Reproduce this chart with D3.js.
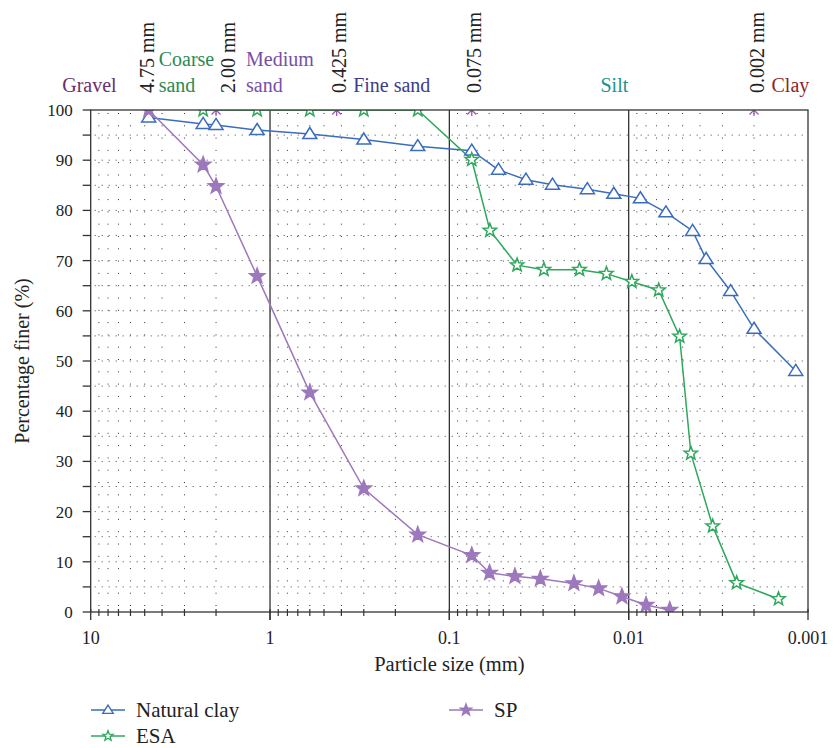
<!DOCTYPE html>
<html>
<head>
<meta charset="utf-8">
<script src="https://cdn.jsdelivr.net/npm/d3@7"></script>
<style>
  body { margin: 0; background: #fff; }
  text { font-family: "Liberation Serif", "Times New Roman", serif; }
</style>
</head>
<body>
<div id="chart"></div>
<script>
// chart size
const width = 833,
  height = 748;
const margin = {top: 110, right: 25, bottom: 136, left: 91};

// data (particle size in mm, percentage finer)
const claySize = [4.75, 2.36, 2.0, 1.18, 0.6, 0.3, 0.15, 0.075, 0.0532, 0.0374, 0.0266, 0.017, 0.0121, 0.0086, 0.0062, 0.0044, 0.0037, 0.0027, 0.002, 0.00117];
const clayFiner = [98.5, 97.2, 97.0, 96.0, 95.2, 94.1, 92.8, 91.9, 88.1, 86.1, 85.1, 84.2, 83.3, 82.4, 79.6, 75.9, 70.3, 63.9, 56.4, 48.0];

const esaSize = [2.36, 1.18, 0.6, 0.3, 0.15, 0.075, 0.0594, 0.0419, 0.0297, 0.0188, 0.0133, 0.0096, 0.0068, 0.0052, 0.0045, 0.0034, 0.0025, 0.00146];
const esaFiner = [100, 100, 100, 100, 100, 90.1, 76.0, 69.1, 68.2, 68.2, 67.4, 65.8, 64.1, 54.9, 31.6, 17.1, 5.8, 2.6];

const spSize = [4.75, 2.36, 2.0, 1.18, 0.6, 0.3, 0.15, 0.075, 0.0597, 0.0431, 0.0311, 0.0202, 0.0147, 0.0109, 0.008, 0.0059];
const spFiner = [100, 89.1, 84.8, 66.9, 43.7, 24.6, 15.4, 11.3, 7.8, 7.1, 6.6, 5.7, 4.7, 3.1, 1.4, 0.4];

// sieve boundaries shown at the top
const boundSize = [4.75, 2.0, 0.425, 0.075, 0.002];
const boundLabels = ["4.75 mm", "2.00 mm", "0.425 mm", "0.075 mm", "0.002 mm"];

// soil classes written above the plot
const classNames = [["Gravel"], ["Coarse", "sand"], ["Medium", "sand"], ["Fine sand"], ["Silt"], ["Clay"]];
const classColors = ["#6b2d6e", "#2b8a52", "#7650a8", "#3b3c8e", "#22918a", "#8e2328"];

const xTicks = [10, 1, 0.1, 0.01, 0.001];
const xTickLabels = ["10", "1", "0.1", "0.01", "0.001"];

const svg = d3.select("#chart")
  .append("svg")
  .attr("width", width)
  .attr("height", height);

const x = d3.scaleLog()
  .domain([10, 0.001])
  .range([margin.left - 0.3, width - margin.right]);

const y = d3.scaleLinear()
  .domain([0, 100])
  .range([height - margin.bottom, margin.top]);

const x0 = x.range()[0], x1 = x.range()[1];
const y0 = y.range()[0], y1 = y.range()[1];

svg.append("clipPath").attr("id", "plotclip")
  .append("rect")
  .attr("x", x0).attr("y", y1)
  .attr("width", x1 - x0).attr("height", y0 - y1);

// minor values 2..9 of every decade
const allMinor = [];
[1, 0.1, 0.01, 0.001].forEach(base => {
  for (let m = 2; m <= 9; m++) allMinor.push(m * base);
});

// dotted grid
const grid = svg.append("g");
grid.selectAll(".vdot")
  .data(allMinor)
  .join("line")
  .attr("x1", d => x(d)).attr("x2", d => x(d))
  .attr("y1", y0).attr("y2", y1)
  .attr("stroke", "#333")
  .attr("stroke-width", 1)
  .attr("stroke-dasharray", "1,11.3")
  .attr("stroke-dashoffset", -6);

grid.selectAll(".hdot")
  .data(d3.range(5, 100, 5))
  .join("line")
  .attr("x1", x0).attr("x2", x1)
  .attr("y1", d => y(d)).attr("y2", d => y(d))
  .attr("stroke", "#444")
  .attr("stroke-width", 1)
  .attr("stroke-dasharray", "1,6")
  .attr("stroke-dashoffset", -4);

// solid decade lines
svg.selectAll(".decade")
  .data([1, 0.1, 0.01])
  .join("line")
  .attr("x1", d => x(d)).attr("x2", d => x(d))
  .attr("y1", y0 + 8).attr("y2", y1)
  .attr("stroke", "#333")
  .attr("stroke-width", 1.3);

// x axis ticks
const axisG = svg.append("g");
axisG.selectAll(".minorTick")
  .data(allMinor)
  .join("line")
  .attr("x1", d => x(d)).attr("x2", d => x(d))
  .attr("y1", y0 - 3).attr("y2", y0 + 4)
  .attr("stroke", "#333")
  .attr("stroke-width", 1.2);
axisG.selectAll(".majorTick")
  .data(xTicks)
  .join("line")
  .attr("x1", d => x(d)).attr("x2", d => x(d))
  .attr("y1", y0 - 3).attr("y2", y0 + 8)
  .attr("stroke", "#333")
  .attr("stroke-width", 1.3);
axisG.selectAll(".xlab")
  .data(xTicks)
  .join("text")
  .attr("x", d => x(d))
  .attr("y", y0 + 32)
  .attr("text-anchor", "middle")
  .style("font-size", "18px")
  .style("fill", "#222")
  .text((d, i) => xTickLabels[i]);

// y axis ticks
axisG.selectAll(".yTick")
  .data(d3.range(0, 101, 5))
  .join("line")
  .attr("x1", x0 - 8).attr("x2", x0)
  .attr("y1", d => y(d)).attr("y2", d => y(d))
  .attr("stroke", "#333")
  .attr("stroke-width", 1.3);
axisG.selectAll(".ylab")
  .data(d3.range(0, 101, 10))
  .join("text")
  .attr("x", x0 - 18)
  .attr("y", d => y(d))
  .attr("dy", "0.35em")
  .attr("text-anchor", "end")
  .style("font-size", "17px")
  .style("fill", "#222")
  .text(d => d);

// axis titles
svg.append("text")
  .attr("x", (x0 + x1) / 2)
  .attr("y", y0 + 59)
  .attr("text-anchor", "middle")
  .style("font-size", "20.5px")
  .style("fill", "#222")
  .text("Particle size (mm)");

svg.append("text")
  .attr("transform", `translate(29, ${(y0 + y1) / 2}) rotate(-90)`)
  .attr("text-anchor", "middle")
  .style("font-size", "20px")
  .style("fill", "#222")
  .text("Percentage finer (%)");

// marker shapes
function starPath(r) {
  const pts = [];
  for (let i = 0; i < 10; i++) {
    const a = -Math.PI / 2 + i * Math.PI / 5;
    const rr = i % 2 === 0 ? r : r * 0.42;
    pts.push([rr * Math.cos(a), rr * Math.sin(a)]);
  }
  return "M" + pts.map(p => p.join(",")).join("L") + "Z";
}
function trianglePath(w, h) {
  return `M0,${-h * 0.6}L${w / 2},${h * 0.4}L${-w / 2},${h * 0.4}Z`;
}
const asteriskPath = "M0,-6L0,6M-4.5,-4.5L4.5,4.5M4.5,-4.5L-4.5,4.5";

const series = [
  {name: "Natural clay", size: claySize, finer: clayFiner, color: "#3a6dbd", shape: trianglePath(14, 11), fill: "#fff"},
  {name: "ESA", size: esaSize, finer: esaFiner, color: "#2ea85c", shape: starPath(7), fill: "#fff"},
  {name: "SP", size: spSize, finer: spFiner, color: "#9d78bd", shape: starPath(8), fill: "#9d78bd"}
];

const line = d3.line()
  .x(d => x(d[0]))
  .y(d => y(d[1]));

const plot = svg.append("g").attr("clip-path", "url(#plotclip)");

series.forEach(s => {
  const pts = s.size.map((v, i) => [v, s.finer[i]]);
  plot.append("path")
    .datum(pts)
    .attr("d", line)
    .attr("fill", "none")
    .attr("stroke", s.color)
    .attr("stroke-width", 1.5);
});

// boundary markers (clipped asterisks on the top edge)
plot.selectAll(".bound")
  .data(boundSize)
  .join("path")
  .attr("transform", d => `translate(${x(d)},${y(100)})`)
  .attr("d", asteriskPath)
  .attr("stroke", "#9b59b6")
  .attr("stroke-width", 1.3)
  .attr("fill", "none");

series.forEach(s => {
  const pts = s.size.map((v, i) => [v, s.finer[i]]);
  plot.selectAll(null)
    .data(pts)
    .join("path")
    .attr("transform", d => `translate(${x(d[0])},${y(d[1])})`)
    .attr("d", s.shape)
    .attr("fill", s.fill)
    .attr("stroke", s.color)
    .attr("stroke-width", 1.5);
});

// plot frame
svg.append("rect")
  .attr("x", x0).attr("y", y1)
  .attr("width", x1 - x0).attr("height", y0 - y1)
  .attr("fill", "none")
  .attr("stroke", "#333")
  .attr("stroke-width", 1.3);

// boundary labels (rotated)
const labelBase = boundSize.map((d, i) => x(d) + (i === 0 ? 5 : i === 1 ? 19 : 9.5));
svg.selectAll(".blab")
  .data(boundLabels)
  .join("text")
  .attr("transform", (d, i) => `translate(${labelBase[i]},93) rotate(-90)`)
  .attr("text-anchor", "start")
  .style("font-size", "20px")
  .style("fill", "#222")
  .text(d => d);

// soil class labels
const classX = [labelBase[0] - 37, labelBase[0] + 5, labelBase[1] + 11, labelBase[2] + 7,
  (labelBase[3] + labelBase[4]) / 2 - 8, labelBase[4] + 8];
const classAnchor = ["end", "start", "start", "start", "middle", "start"];
classNames.forEach((lines, i) => {
  const t = svg.append("text")
    .attr("text-anchor", classAnchor[i])
    .style("font-size", "20px")
    .style("fill", classColors[i]);
  lines.forEach((ln, j) => {
    t.append("tspan")
      .attr("x", classX[i])
      .attr("y", 92 - (lines.length - 1 - j) * 26)
      .text(ln);
  });
});

// legend
const legendPos = [[91, 710], [91, 736], [449, 710]];
series.forEach((s, i) => {
  const [lx, ly] = legendPos[i];
  const g = svg.append("g").attr("transform", `translate(${lx},${ly})`);
  g.append("line")
    .attr("x1", 0).attr("x2", 34)
    .attr("stroke", s.color)
    .attr("stroke-width", 1.5);
  g.append("path")
    .attr("transform", "translate(17,0) scale(0.75)")
    .attr("d", s.shape)
    .attr("fill", s.fill)
    .attr("stroke", s.color)
    .attr("stroke-width", 1.8);
  g.append("text")
    .attr("x", 45)
    .attr("y", 0)
    .attr("dy", "0.33em")
    .style("font-size", "21px")
    .style("fill", "#222")
    .text(s.name);
});
</script>
</body>
</html>
